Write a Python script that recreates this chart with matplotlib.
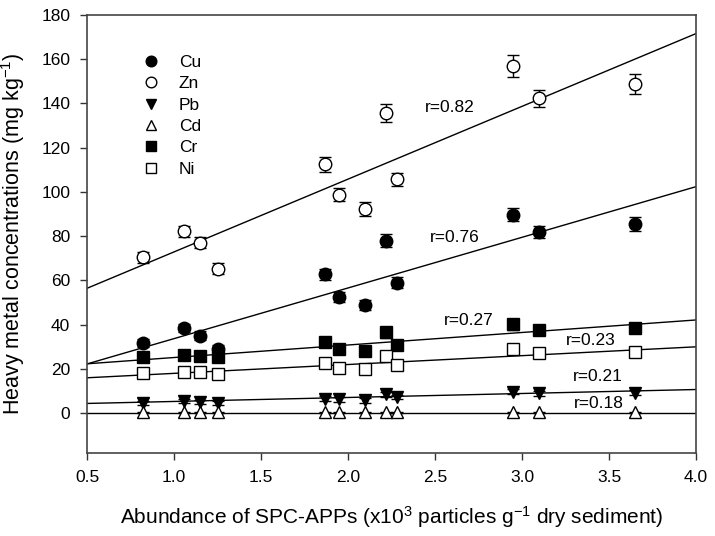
import matplotlib
matplotlib.use("Agg")
import matplotlib.pyplot as plt
import numpy as np

plt.rcParams['font.family'] = ['Liberation Sans', 'DejaVu Sans']
plt.rcParams['mathtext.fontset'] = 'custom'
plt.rcParams['mathtext.rm'] = 'Liberation Sans'
plt.rcParams['mathtext.it'] = 'Liberation Sans:italic'

# ---- data ----
abundance = [0.82, 1.06, 1.15, 1.25, 1.87, 1.95, 2.10, 2.22, 2.28, 2.95, 3.10, 3.65]

cu = [31.7, 38.5, 35.1, 28.8, 62.7, 52.4, 48.8, 78.0, 59.0, 89.8, 82.0, 85.5]
zn = [70.5, 82.3, 77.0, 65.2, 112.5, 98.8, 92.3, 135.8, 105.8, 157.0, 142.3, 148.8]
pb = [4.7, 5.4, 5.0, 4.7, 6.6, 6.2, 5.8, 8.6, 7.2, 9.7, 8.9, 9.3]
cd = [0.4, 0.4, 0.4, 0.4, 0.4, 0.4, 0.4, 0.4, 0.4, 0.4, 0.4, 0.4]
cr = [25.5, 26.4, 26.0, 25.2, 32.2, 29.2, 28.2, 36.5, 31.0, 40.3, 37.8, 38.5]
ni = [18.0, 18.8, 18.5, 17.8, 22.5, 20.6, 20.0, 25.7, 21.8, 28.8, 27.0, 27.5]

cu_err = [2.0, 2.0, 2.0, 2.0, 2.5, 2.2, 2.2, 3.0, 2.5, 3.0, 2.8, 3.0]
zn_err = [2.5, 2.5, 2.5, 2.5, 3.5, 3.0, 3.0, 4.0, 3.0, 5.0, 4.0, 4.5]
pb_err = [0.8, 0.8, 0.8, 0.8, 1.0, 1.0, 1.0, 1.2, 1.0, 1.2, 1.2, 1.2]
cd_err = [0.2, 0.2, 0.2, 0.2, 0.2, 0.2, 0.2, 0.2, 0.2, 0.2, 0.2, 0.2]
cr_err = [1.8, 1.8, 1.8, 1.8, 2.2, 2.0, 2.0, 2.5, 2.0, 2.5, 2.2, 2.2]
ni_err = [1.5, 1.5, 1.5, 1.5, 1.8, 1.6, 1.6, 2.0, 1.8, 2.0, 1.8, 1.8]

metals = ["Cu", "Zn", "Pb", "Cd", "Cr", "Ni"]

# regression lines (slope, intercept)
fit_slope = [22.9, 32.9, 1.8, 0.0, 5.66, 4.0]
fit_intercept = [10.8, 40.0, 3.5, 0.05, 19.5, 14.0]
fit_label = ["r=0.76", "r=0.82", "r=0.21", "r=0.18", "r=0.27", "r=0.23"]
label_pos_x = [2.47, 2.44, 3.29, 3.30, 2.55, 3.25]
label_pos_y = [79.5, 138.0, 16.4, 4.2, 42.0, 33.0]

x_ticks = [0.5, 1.0, 1.5, 2.0, 2.5, 3.0, 3.5, 4.0]
y_ticks = [0, 20, 40, 60, 80, 100, 120, 140, 160, 180]

# ---- figure ----
fig = plt.figure(figsize=(7.15, 5.36), dpi=100)
ax = fig.add_axes([87/715, 1 - 453/536, (696 - 87)/715, (453 - 15)/536])

series = [cu, zn, pb, cd, cr, ni]
errs = [cu_err, zn_err, pb_err, cd_err, cr_err, ni_err]
markers = ["o", "o", "v", "^", "s", "s"]
faces = ["black", "white", "black", "white", "black", "white"]
msize = [9, 9, 9, 9, 8, 8]

# regression lines
xl = np.array([0.5, 4.0])
for s, b in zip(fit_slope, fit_intercept):
    ax.plot(xl, s * xl + b, color="black", lw=1.0, zorder=2)

handles = []
for ys, es, m, fc, ms, name in zip(series, errs, markers, faces, msize, metals):
    ax.errorbar(abundance, ys, yerr=es, fmt="none", ecolor="black",
                elinewidth=1.0, capsize=4.5, capthick=1.0, zorder=3)
    h, = ax.plot(abundance, ys, linestyle="none", marker=m, ms=ms,
                 mfc=fc, mec="black", mew=1.0, zorder=4, label=name)
    handles.append(h)

for t, lx, ly in zip(fit_label, label_pos_x, label_pos_y):
    ax.text(lx, ly, t, fontsize=12.5, ha="left", va="center")

leg = ax.legend(handles=handles, loc="upper left", bbox_to_anchor=(0.065, 0.945),
                frameon=False, fontsize=12.5, handletextpad=1.1,
                labelspacing=0.36, handlelength=1.0, markerscale=0.85)

ax.set_xlim(0.5, 4.0)
ax.set_ylim(-18, 180)
ax.set_xticks(x_ticks)
ax.set_xticklabels([f"{v:.1f}" for v in x_ticks])
ax.set_yticks(y_ticks)
ax.tick_params(direction="out", length=5, width=1.0, labelsize=12.5, pad=7,
               colors="#333333", labelcolor="black")
for sp in ax.spines.values():
    sp.set_color("#444444")
    sp.set_linewidth(1.2)

ax.set_xlabel(r"Abundance of SPC-APPs (x10$^{3}$ particles g$^{-1}$ dry sediment)",
              fontsize=15, labelpad=14)
ax.set_ylabel(r"Heavy metal concentrations (mg kg$^{-1}$)", fontsize=15.5, labelpad=10)

fig.savefig("out.png", dpi=100)
